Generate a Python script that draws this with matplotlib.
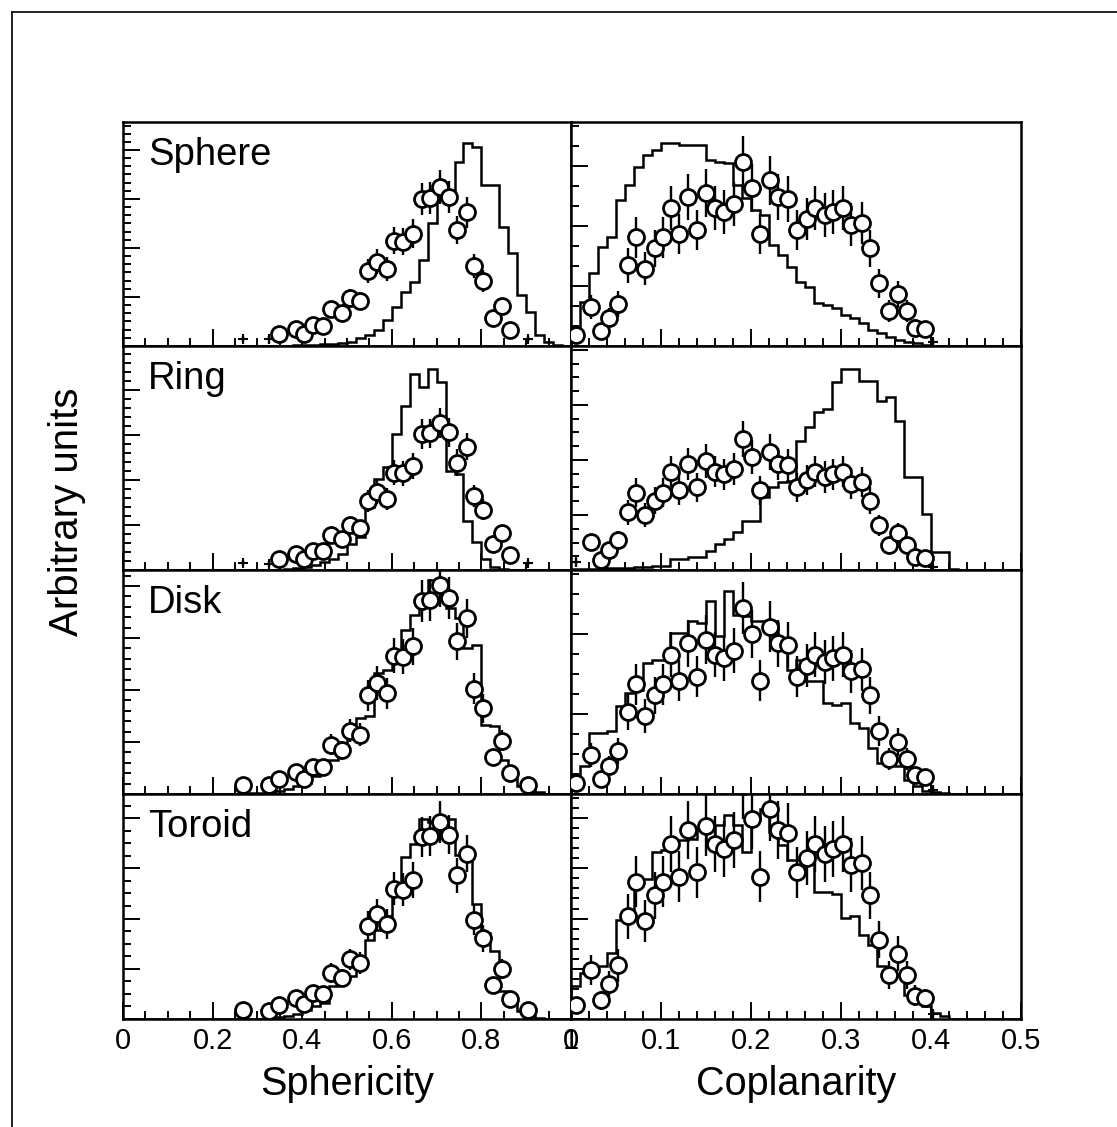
import numpy as np
import matplotlib
matplotlib.use("Agg")
import matplotlib.pyplot as plt
from matplotlib.ticker import MultipleLocator, FixedLocator, FixedFormatter

plt.rcParams["font.family"] = ["Liberation Sans", "DejaVu Sans"]

# ---------------------------------------------------------------- data
shapes = ["Sphere", "Ring", "Disk", "Toroid"]

# measured sphericity distribution (normalised to its maximum)
sph_x = [0.267, 0.326, 0.349, 0.386, 0.404, 0.425, 0.447, 0.464, 0.488, 0.507,
         0.529, 0.546, 0.566, 0.589, 0.605, 0.624, 0.648, 0.667, 0.685, 0.708,
         0.728, 0.746, 0.767, 0.784, 0.804, 0.827, 0.845, 0.864, 0.905]
sph_y = [0.045, 0.042, 0.073, 0.106, 0.074, 0.131, 0.128, 0.235, 0.210, 0.303,
         0.284, 0.472, 0.531, 0.482, 0.662, 0.657, 0.706, 0.925, 0.929, 1.000,
         0.936, 0.730, 0.840, 0.504, 0.410, 0.175, 0.254, 0.101, 0.045]
sph_err = [0.020, 0.020, 0.025, 0.030, 0.025, 0.035, 0.035, 0.050, 0.045, 0.055,
           0.055, 0.075, 0.080, 0.075, 0.085, 0.085, 0.090, 0.100, 0.100, 0.105,
           0.100, 0.090, 0.095, 0.075, 0.070, 0.040, 0.050, 0.030, 0.020]

# measured coplanarity distribution (normalised to its maximum)
cop_x = [0.005, 0.022, 0.033, 0.042, 0.052, 0.063, 0.072, 0.082, 0.093, 0.102,
         0.111, 0.120, 0.130, 0.140, 0.150, 0.160, 0.170, 0.181, 0.191, 0.201,
         0.210, 0.221, 0.230, 0.241, 0.251, 0.262, 0.271, 0.282, 0.291, 0.302,
         0.311, 0.323, 0.332, 0.342, 0.353, 0.363, 0.373, 0.382, 0.393, 0.402]
cop_y = [0.060, 0.210, 0.080, 0.150, 0.230, 0.440, 0.590, 0.420, 0.530, 0.590,
         0.750, 0.610, 0.810, 0.630, 0.830, 0.750, 0.730, 0.770, 1.000, 0.860,
         0.610, 0.900, 0.810, 0.800, 0.630, 0.690, 0.750, 0.710, 0.730, 0.750,
         0.660, 0.670, 0.530, 0.340, 0.190, 0.280, 0.190, 0.100, 0.090, 0.020]
cop_err = [0.035, 0.065, 0.040, 0.055, 0.070, 0.095, 0.110, 0.090, 0.100, 0.110,
           0.120, 0.110, 0.125, 0.110, 0.130, 0.120, 0.120, 0.120, 0.140, 0.130,
           0.110, 0.135, 0.125, 0.125, 0.110, 0.115, 0.120, 0.120, 0.120, 0.120,
           0.115, 0.115, 0.100, 0.080, 0.060, 0.075, 0.060, 0.045, 0.040, 0.020]

# normalisation of the data in each panel (arbitrary units)
sph_norm = [159, 147, 209, 196]
cop_norm = [184, 131, 186, 232]

# simulated distributions, 50 bins each (arbitrary units)
sph_edges = np.linspace(0.0, 1.0, 51)
cop_edges = np.linspace(0.0, 0.5, 51)

sph_hist = {
    "Sphere": [0] * 18 + [0.3, 0.5, 0.7, 1, 1.5, 2, 2.7, 4.3, 7.7, 11, 16, 26, 39, 54,
                          64, 86, 123, 146, 146, 184, 203, 199, 161, 161, 119, 93, 51,
                          34, 11, 4, 1, 0],
    "Ring": [0] * 18 + [1, 2, 3, 5, 8, 11, 16, 26, 33, 63, 91, 103, 136, 164, 196, 183,
                        201, 188, 99, 96, 49, 28, 11, 3, 1, 0, 0, 0, 0, 0, 0, 0],
    "Disk": [0] * 14 + [1, 1, 2, 3, 5, 8, 11, 18, 29, 34, 44, 64, 76, 78, 121, 124, 144,
                        164, 179, 194, 214, 214, 186, 176, 146, 149, 69, 68, 34, 21, 8,
                        4, 2, 0, 0, 0],
    "Toroid": [0] * 16 + [1, 2, 3, 5, 9, 13, 16, 33, 36, 43, 58, 79, 89, 103, 133, 161,
                          174, 199, 196, 201, 199, 163, 159, 114, 86, 68, 28, 16, 8, 3,
                          1, 0, 0, 0],
}
cop_hist = {
    "Sphere": [16, 44, 73, 99, 109, 146, 161, 179, 191, 196, 203, 203, 201, 201, 201,
               186, 184, 183, 161, 148, 136, 131, 101, 91, 79, 64, 59, 43, 41, 38, 31,
               28, 23, 16, 13, 9, 6, 4, 3, 1] + [0] * 10,
    "Ring": [1, 1, 1, 2, 2, 2, 2, 3, 3, 4, 4, 11, 11, 13, 13, 19, 26, 31, 38, 49, 49,
             73, 83, 88, 89, 129, 143, 158, 161, 188, 201, 201, 189, 189, 169, 173, 149,
             93, 93, 56, 18, 18, 1] + [0] * 7,
    "Disk": [14, 28, 61, 61, 63, 88, 101, 104, 131, 134, 134, 161, 161, 173, 171, 193,
             158, 203, 179, 178, 173, 173, 171, 144, 124, 134, 113, 113, 91, 89, 91, 71,
             66, 46, 31, 34, 28, 14, 8, 3, 2, 1] + [0] * 8,
    "Toroid": [33, 46, 53, 53, 66, 99, 99, 136, 139, 166, 168, 178, 178, 179, 189, 173,
               193, 203, 193, 166, 199, 209, 186, 173, 158, 158, 164, 126, 126, 124, 101,
               103, 84, 74, 53, 44, 43, 24, 19, 13, 6, 3] + [0] * 8,
}

# y tick spacing (major, minor) per panel
sph_yticks = [(49, 49 / 6), (45, 9), (52, 10.4), (50, 12.5)]
cop_yticks = [(60, 20), (55, 13.75), (80, 20), (50, 10)]

sph_ticklabels = ["0", "0.2", "0.4", "0.6", "0.8", "1"]
cop_ticklabels = ["0", "0.1", "0.2", "0.3", "0.4", "0.5"]

# ---------------------------------------------------------------- figure
W, H = 1117, 1127
fig = plt.figure(figsize=(W / 100, H / 100), dpi=100)

# outer frame lines
fig.add_artist(plt.Line2D([12 / W, 1.0], [1 - 12 / H, 1 - 12 / H], color="black", lw=1.2))
fig.add_artist(plt.Line2D([12 / W, 12 / W], [1 - 12 / H, 0.0], color="black", lw=1.2))

x_left, x_mid, x_right = 123, 571, 1021
y_rows = [122, 346, 570, 794, 1019]
YMAX = 224.0
LW = 1.8


def style_axes(ax, xmax, xmajor, xminor, ymaj, ymin, labels, show_labels):
    ax.set_xlim(0, xmax)
    ax.set_ylim(0, YMAX)
    for sp in ax.spines.values():
        sp.set_linewidth(LW)
    ax.xaxis.set_major_locator(MultipleLocator(xmajor))
    ax.xaxis.set_minor_locator(MultipleLocator(xminor))
    ax.yaxis.set_major_locator(MultipleLocator(ymaj))
    ax.yaxis.set_minor_locator(MultipleLocator(ymin))
    ax.tick_params(which="both", direction="in", top=False, right=False,
                   width=1.4, labelleft=False)
    ax.tick_params(which="major", length=12)
    ax.tick_params(which="minor", length=5.5)
    if show_labels:
        ticks = [i * xmajor for i in range(len(labels))]
        ax.xaxis.set_major_locator(FixedLocator(ticks))
        ax.xaxis.set_major_formatter(FixedFormatter(labels))
        ax.tick_params(axis="x", labelsize=21, pad=6)
    else:
        ax.tick_params(axis="x", labelbottom=False)


def draw_data(ax, xs, ys, es, norm):
    for x, y, e in zip(xs, ys, es):
        v = y * norm
        ax.plot([x, x], [v - e * norm, v + e * norm], color="black", lw=1.7,
                solid_capstyle="butt", zorder=3)
        if v < 8:
            ax.plot(x, v, marker="+", ms=7, mew=1.5, color="black", zorder=4)
        else:
            ax.plot(x, v, marker="o", ms=11.5, mew=2.0, mfc="white", mec="black",
                    zorder=4)


for i, name in enumerate(shapes):
    top, bot = y_rows[i], y_rows[i + 1]
    last = i == len(shapes) - 1

    axl = fig.add_axes([x_left / W, 1 - bot / H, (x_mid - x_left) / W, (bot - top) / H])
    axl.stairs(sph_hist[name], sph_edges, color="black", lw=1.8, zorder=2)
    draw_data(axl, sph_x, sph_y, sph_err, sph_norm[i])
    style_axes(axl, 1.0, 0.2, 0.05, *sph_yticks[i], sph_ticklabels, last)
    axl.text(0.056, 0.81, name, transform=axl.transAxes, fontsize=27.5,
             ha="left", va="baseline")

    axr = fig.add_axes([x_mid / W, 1 - bot / H, (x_right - x_mid) / W, (bot - top) / H])
    axr.stairs(cop_hist[name], cop_edges, color="black", lw=1.8, zorder=2)
    draw_data(axr, cop_x, cop_y, cop_err, cop_norm[i])
    style_axes(axr, 0.5, 0.1, 0.02, *cop_yticks[i], cop_ticklabels, last)

fig.text((x_left + x_mid) / 2 / W, 1 - 1095 / H, "Sphericity", fontsize=28.5,
         ha="center", va="baseline")
fig.text((x_mid + x_right) / 2 / W, 1 - 1095 / H, "Coplanarity", fontsize=28.5,
         ha="center", va="baseline")
fig.text(67 / W, 1 - 512 / H, "Arbitrary units", fontsize=29, rotation=90,
         ha="center", va="center")

fig.savefig("out.png", dpi=100)
